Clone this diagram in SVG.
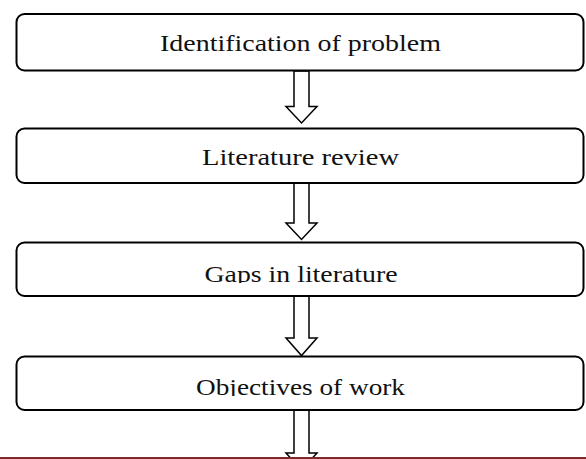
<svg xmlns="http://www.w3.org/2000/svg" width="586" height="459" viewBox="0 0 586 459">
<style>
.box{fill:#fff;stroke:#000;stroke-width:2}
.arr{fill:#fff;stroke:#000;stroke-width:1.5;stroke-linejoin:miter}
.t{font-family:"Liberation Serif","DejaVu Serif",serif;font-size:24px;fill:#111;text-anchor:middle}
</style>
<defs>
<clipPath id="c3"><rect x="0" y="240" width="586" height="43"/></clipPath>
<clipPath id="c4"><rect x="0" y="355" width="586" height="41"/></clipPath>
</defs>
<rect width="586" height="459" fill="#fff"/>
<g id="connectors">
<polygon class="arr" points="294,71 309,71 309,106.5 317,106.5 301.5,123 286,106.5 294,106.5"/>
<polygon class="arr" points="294,183 309,183 309,223 317,223 301.5,239.5 286,223 294,223"/>
<polygon class="arr" points="294,296 309,296 309,338 317,338 301.5,355.5 286,338 294,338"/>
<polygon class="arr" points="294,410 309,410 309,453 317,453 301.5,470 286,453 294,453"/>
</g>
<g id="n1"><rect class="box" x="16.5" y="14" width="567" height="56.5" rx="8"/><text class="t" x="300.5" y="51" textLength="281" lengthAdjust="spacingAndGlyphs">Identification of problem</text></g>
<g id="n2"><rect class="box" x="16.5" y="128.5" width="567" height="54.5" rx="8"/><text class="t" x="300.5" y="165" textLength="197" lengthAdjust="spacingAndGlyphs">Literature review</text></g>
<g id="n3"><rect class="box" x="16.5" y="242.5" width="567" height="53.5" rx="8"/><text class="t" x="301" y="282" textLength="193" lengthAdjust="spacingAndGlyphs" clip-path="url(#c3)">Gaps in literature</text></g>
<g id="n4"><rect class="box" x="16.5" y="356.5" width="567" height="53.5" rx="8"/><text class="t" x="300.5" y="395" textLength="209" lengthAdjust="spacingAndGlyphs" clip-path="url(#c4)">Objectives of work</text></g>
<line x1="0" y1="458" x2="586" y2="458" stroke="#7b2a2a" stroke-width="2"/>
</svg>
